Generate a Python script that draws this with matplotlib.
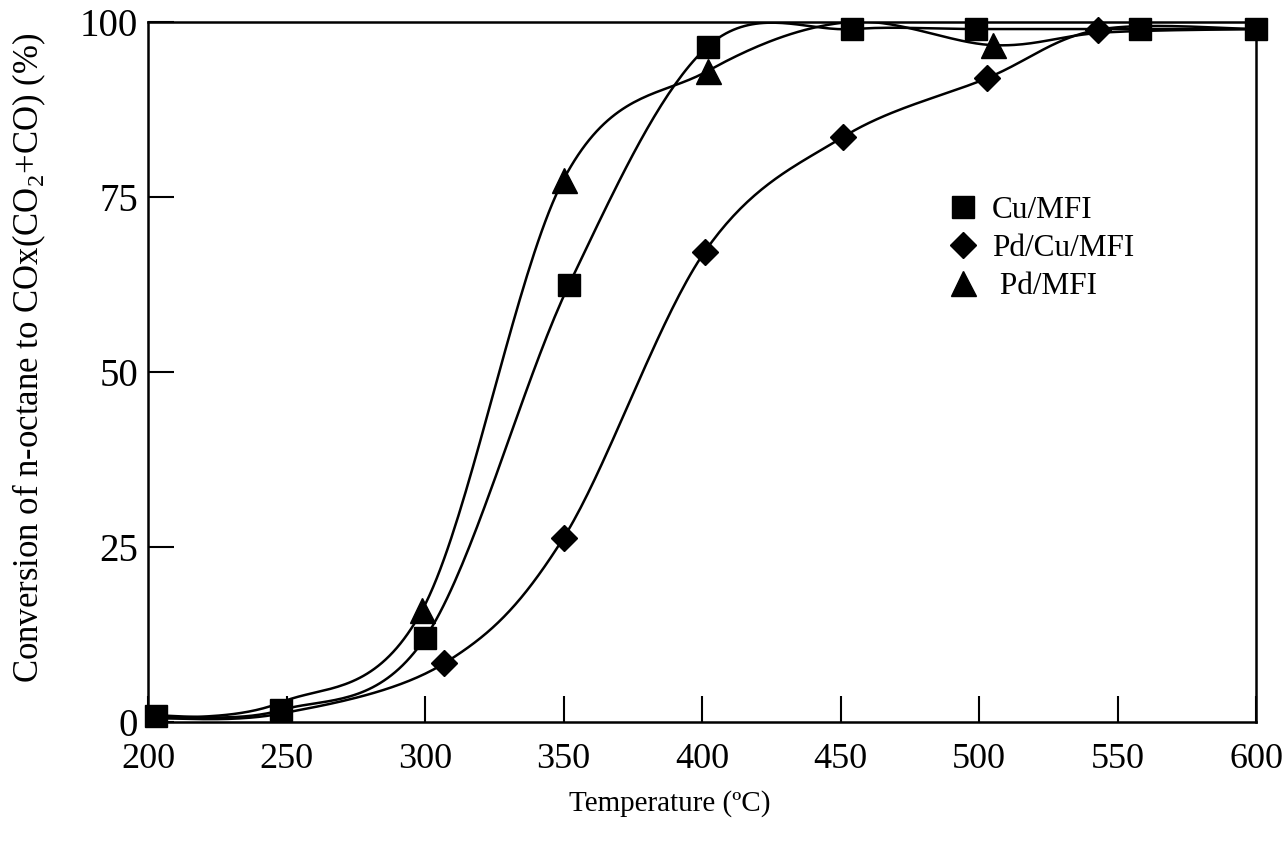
import numpy as np
import matplotlib
matplotlib.use("Agg")
import matplotlib.pyplot as plt
from matplotlib.lines import Line2D

plt.rcParams['font.family'] = ['Liberation Serif', 'DejaVu Serif']
plt.rcParams['mathtext.fontset'] = 'custom'
plt.rcParams['mathtext.rm'] = 'Liberation Serif'

# Temperature (°C) and conversion (%) for each catalyst
cu_temp = [203, 248, 300, 352, 402, 454, 499, 558, 600]
cu_conv = [0.9, 1.7, 12.0, 62.5, 96.5, 99.0, 99.0, 99.0, 99.0]

pdcu_temp = [203, 248, 307, 350, 401, 451, 503, 543, 600]
pdcu_conv = [0.5, 1.2, 8.4, 26.3, 67.2, 83.6, 92.0, 98.9, 99.0]

pd_temp = [203, 248, 299, 350, 402, 453, 505, 545, 600]
pd_conv = [0.5, 2.8, 16.0, 77.5, 93.0, 100.0, 96.7, 98.5, 99.0]

labels = ["Cu/MFI", "Pd/Cu/MFI", " Pd/MFI"]
x_ticks = [200, 250, 300, 350, 400, 450, 500, 550, 600]
y_ticks = [0, 25, 50, 75, 100]

# points whose symbols sit underneath the Cu/MFI squares
pdcu_marks = [2, 3, 4, 5, 6, 7]
pd_marks = [2, 3, 4, 6]


def smooth(xs, ys, n=40):
    """Cubic Bezier smoothing through every point (spreadsheet-style)."""
    p = np.column_stack([xs, ys]).astype(float)
    out = [p[0]]
    t = np.linspace(0, 1, n)[1:, None]
    for i in range(len(p) - 1):
        p0 = p[i - 1] if i > 0 else p[i]
        p1, p2 = p[i], p[i + 1]
        p3 = p[i + 2] if i + 2 < len(p) else p[i + 1]
        c1 = p1 + (p2 - p0) / 6.0
        c2 = p2 - (p3 - p1) / 6.0
        seg = ((1 - t) ** 3) * p1 + 3 * ((1 - t) ** 2) * t * c1 \
            + 3 * (1 - t) * t ** 2 * c2 + t ** 3 * p2
        out.extend(seg)
    out = np.array(out)
    return out[:, 0], out[:, 1]


fig = plt.figure(figsize=(12.86, 8.48), dpi=100)
ax = fig.add_axes([0.1151, 0.1486, 0.8616, 0.8254])

series = [
    (cu_temp, cu_conv, 's', 16, None, 3),
    (pdcu_temp, pdcu_conv, 'D', 13.5, pdcu_marks, 2),
    (pd_temp, pd_conv, '^', 18, pd_marks, 2),
]

handles = []
for (xs, ys, mk, ms, every, z), lab in zip(series, labels):
    sx, sy = smooth(xs, ys)
    ax.plot(sx, sy, color='black', lw=1.8, solid_capstyle='round', zorder=1)
    ax.plot(xs, ys, linestyle='none', marker=mk, markersize=ms,
            markevery=every, color='black', clip_on=False, zorder=z)
    handles.append(Line2D([], [], linestyle='none', marker=mk,
                          markersize=ms, color='black', label=lab))

ax.set_xlim(200, 600)
ax.set_ylim(0, 100)
ax.set_xticks(x_ticks)
ax.set_yticks(y_ticks)
ax.tick_params(direction='in', length=19, width=1.5)
ax.tick_params(axis='y', pad=7, labelsize=28)
ax.tick_params(axis='x', pad=15, labelsize=26)
for s in ax.spines.values():
    s.set_linewidth(1.8)

ax.set_xlabel("Temperature (\u00baC)", fontsize=21)
ax.xaxis.set_label_coords(0.471, -0.097)
ax.set_ylabel("Conversion of n-octane to COx(CO$_2$+CO) (%)", fontsize=25)
ax.yaxis.set_label_coords(-0.090, 0.52)

ax.legend(handles=handles, loc='upper left', frameon=False,
          bbox_to_anchor=(0.7215, 0.752), fontsize=22.5,
          handletextpad=0.43, labelspacing=0.29, handlelength=1.0,
          borderaxespad=0, borderpad=0)

fig.savefig("out.png", dpi=100, facecolor='white')
